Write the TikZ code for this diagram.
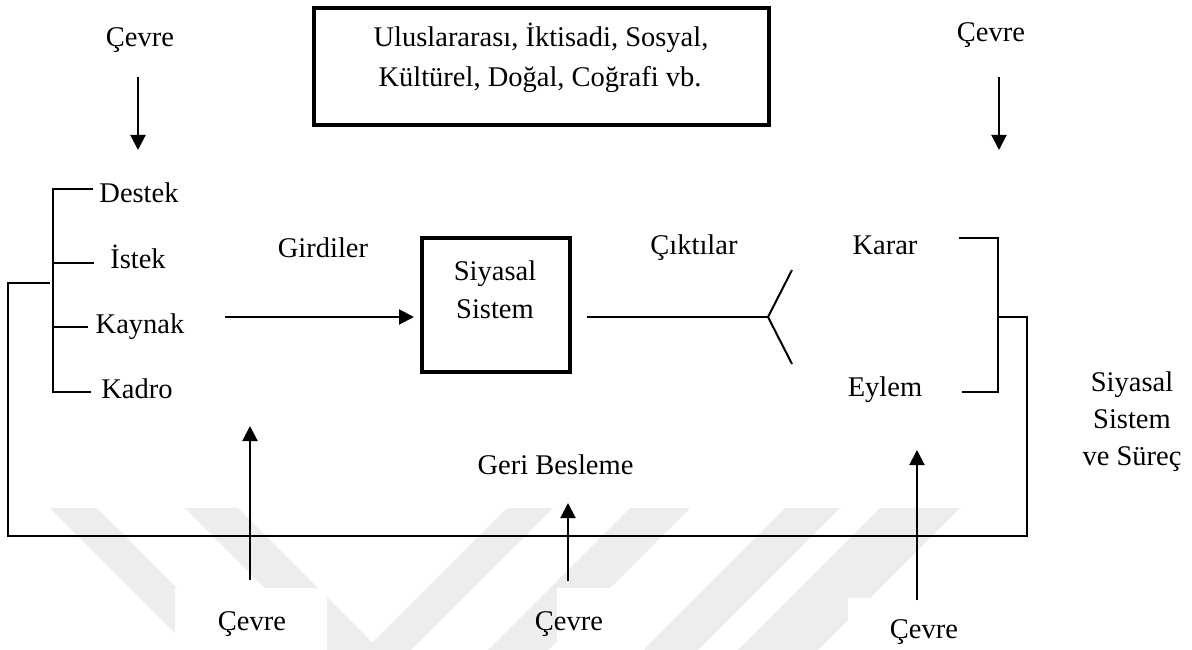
\documentclass[tikz,border=0pt]{standalone}
\usepackage{fontspec}
\setmainfont{Liberation Serif}
\usetikzlibrary{arrows.meta}
\tikzset{
  lbl/.style={anchor=base, inner sep=0pt, font=\fontsize{28.5}{38}\selectfont},
  ln/.style={line width=2pt},
  arr/.style={line width=2pt, -{Triangle[width=15pt,length=15pt]}},
  thickbox/.style={draw, line width=4pt, inner sep=0pt},
  wm/.style={fill=black!7, draw=none}
}
\begin{document}
\begin{tikzpicture}[x=1pt,y=-1pt]
\useasboundingbox (0,0) rectangle (1192,650);
\fill[white] (0,0) rectangle (1192,650);
% faint watermark bands
\fill[wm] (50,508) -- (97,508) -- (239,650) -- (192,650) -- cycle;
\fill[wm] (185,508) -- (238,508) -- (380,650) -- (327,650) -- cycle;
\fill[wm] (507,508) -- (553,508) -- (411,650) -- (365,650) -- cycle;
\fill[wm] (630,508) -- (690,508) -- (548,650) -- (488,650) -- cycle;
\fill[wm] (785,508) -- (840,508) -- (698,650) -- (643,650) -- cycle;
\fill[wm] (880,508) -- (960,508) -- (818,650) -- (738,650) -- cycle;
% white patches behind lower labels
\fill[white] (175,588) rectangle (327,650);
\fill[white] (557,588) rectangle (645,650);
\fill[white] (848,598) rectangle (1010,650);

% boxes
\node[thickbox, minimum width=455pt, minimum height=117pt] (envbox) at (541.5,66.5) {};
\node[thickbox, minimum width=148pt, minimum height=134pt] (sys) at (496,305) {};

% labels
\node[lbl] (env1) at (541,47) {Uluslararası, İktisadi, Sosyal,};
\node[lbl] (env2) at (540,87) {Kültürel, Doğal, Coğrafi vb.};
\node[lbl] (cevTL) at (140,47) {Çevre};
\node[lbl] (cevTR) at (991,42) {Çevre};
\node[lbl] (destek) at (139,203) {Destek};
\node[lbl] (istek) at (138,268) {İstek};
\node[lbl] (kaynak) at (140,333) {Kaynak};
\node[lbl] (kadro) at (137,398) {Kadro};
\node[lbl] (girdi) at (323,257) {Girdiler};
\node[lbl] (sys1) at (495,280) {Siyasal};
\node[lbl] (sys2) at (495,318) {Sistem};
\node[lbl] (cikti) at (694,254) {Çıktılar};
\node[lbl] (karar) at (885,254) {Karar};
\node[lbl] (eylem) at (885,396) {Eylem};
\node[lbl] (ss1) at (1132,391) {Siyasal};
\node[lbl] (ss2) at (1132,428) {Sistem};
\node[lbl] (ss3) at (1132,465) {ve Süreç};
\node[lbl] (geri) at (555.5,474) {Geri Besleme};
\node[lbl] (cevBL) at (252,630) {Çevre};
\node[lbl] (cevBM) at (569,630) {Çevre};
\node[lbl] (cevBR) at (924,638) {Çevre};

% coordinates
\coordinate (tlA) at (138,77);  \coordinate (tlB) at (138,150);
\coordinate (trA) at (999,77);  \coordinate (trB) at (999,150);
\coordinate (inA) at (225,317); \coordinate (inB) at (414,317);
\coordinate (outA) at (587,317); \coordinate (fork) at (768,317);
\coordinate (forkU) at (792,270); \coordinate (forkD) at (792,364);
\coordinate (brT) at (53,189); \coordinate (brB) at (53,392);
\coordinate (tD) at (93,189); \coordinate (tI) at (94,263);
\coordinate (tKy) at (88,327); \coordinate (tKd) at (91,392);
\coordinate (bI) at (53,263); \coordinate (bK) at (53,327);
\coordinate (fb1) at (50,283); \coordinate (fb2) at (8,283);
\coordinate (fb3) at (8,536); \coordinate (fb4) at (1027,536);
\coordinate (fb5) at (1027,317); \coordinate (fb6) at (998,317);
\coordinate (rbT) at (959,238); \coordinate (rbTc) at (998,238);
\coordinate (rbBc) at (998,392); \coordinate (rbB) at (962,392);
\coordinate (b1A) at (250,580); \coordinate (b1B) at (250,426);
\coordinate (b2A) at (568,581); \coordinate (b2B) at (568,503);
\coordinate (b3A) at (917,600); \coordinate (b3B) at (917,450);

% connectors
\draw[arr] (tlA) -- (tlB);
\draw[arr] (trA) -- (trB);
\draw[ln] (tD) -- (brT) -- (brB) -- (tKd);
\draw[ln] (bI) -- (tI);
\draw[ln] (bK) -- (tKy);
\draw[arr] (inA) -- (inB);
\draw[ln] (outA) -- (fork);
\draw[ln] (forkU) -- (fork) -- (forkD);
\draw[ln] (rbT) -- (rbTc) -- (rbBc) -- (rbB);
\draw[ln] (fb1) -- (fb2) -- (fb3) -- (fb4) -- (fb5) -- (fb6);
\draw[arr] (b1A) -- (b1B);
\draw[arr] (b2A) -- (b2B);
\draw[arr] (b3A) -- (b3B);
\end{tikzpicture}
\end{document}
